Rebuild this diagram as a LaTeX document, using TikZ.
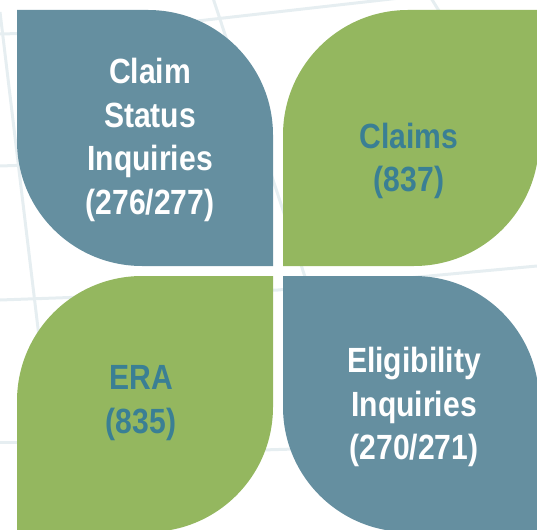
\documentclass[tikz,border=0pt]{standalone}
\usepackage{fontspec}
\newfontfamily\leaffont{Liberation Sans}[FakeStretch=0.86]
\definecolor{leafblue}{HTML}{658FA0}
\definecolor{leafgreen}{HTML}{94B75F}
\definecolor{labelteal}{HTML}{3A7F94}
\definecolor{maplines}{HTML}{E6EEF1}
\tikzset{
  road/.style={draw=maplines,line width=3pt},
  bluetext/.style={inner sep=0pt,align=center,text=white,font=\leaffont\bfseries\fontsize{35}{43.5}\selectfont},
  greentext/.style={inner sep=0pt,align=center,text=labelteal,font=\leaffont\bfseries\fontsize{35}{43.5}\selectfont}
}
\begin{document}
\begin{tikzpicture}[x=1pt,y=-1pt]
    \useasboundingbox (0,0) rectangle (537,529);
    % faint map in the background
    \draw[road] (0,34) -- (40,33);
    \draw[road] (100,32) -- (400,-2);
    \draw[road] (213,-2) -- (310,292);
    \draw[road] (431,-2) -- (452,32);
    \draw[road] (0,12) -- (40,345);
    \draw[road] (0,166) -- (30,165);
    \draw[road] (0,300) -- (278,290) -- (537,266);
    \draw[road] (0,442) -- (30,442);
    \draw[road] (262,450) -- (295,449);
    % the four leaves
    \fill[leafblue] (17,10) [rounded corners=125pt] -- (273,10) [sharp corners] -- (273,266)
        [rounded corners=125pt] -- (17,266) [sharp corners] -- cycle;
    \fill[leafgreen] (283,266) [rounded corners=125pt] -- (283,10) [sharp corners] -- (539,10)
        [rounded corners=125pt] -- (539,266) [sharp corners] -- cycle;
    \fill[leafgreen] (17,532) [rounded corners=125pt] -- (17,276) [sharp corners] -- (273,276)
        [rounded corners=125pt] -- (273,532) [sharp corners] -- cycle;
    \fill[leafblue] (283,276) [rounded corners=125pt] -- (539,276) [sharp corners] -- (539,532)
        [rounded corners=125pt] -- (283,532) [sharp corners] -- cycle;
    % labels
    \node[bluetext] (status) at (150,140) {Claim\\Status\\Inquiries\\(276/277)};
    \node[greentext] (claims) at (409,161) {Claims\\(837)};
    \node[greentext] (era) at (141,403) {ERA\\(835)};
    \node[bluetext] (elig) at (414,407) {Eligibility\\Inquiries\\(270/271)};
\end{tikzpicture}
\end{document}
